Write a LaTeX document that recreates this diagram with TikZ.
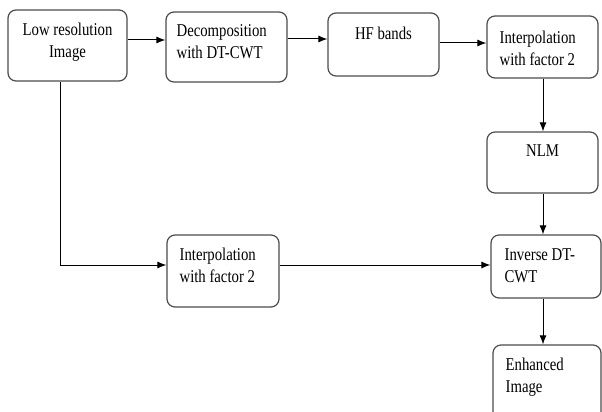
\documentclass[tikz,border=0pt]{standalone}
\usepackage{fontspec}
\setmainfont{Liberation Serif}[FakeStretch=0.82]
\usetikzlibrary{arrows.meta}
\usetikzlibrary{positioning}
\tikzset{
    stage/.style = {draw=black!70,line width=1.2pt,rounded corners=8pt,inner sep=0},
    txt/.style = {font=\fontsize{18}{22}\selectfont,inner sep=0},
    flow/.style = {line width=1pt,-{Latex[length=9pt,width=7pt]}},
    wire/.style = {line width=1pt}
}
\begin{document}
\begin{tikzpicture}[x=1pt,y=1pt]
        \clip (0,0) rectangle (602,-412);
        % Boxes
        \path node[stage,minimum width=119,minimum height=71] (lowres) at (67.5,-45.5) {}
            node[stage,minimum width=121,minimum height=70] (decomp) at (226.5,-47) {}
            node[stage,minimum width=111,minimum height=63] (hf) at (383.5,-44.5) {}
            node[stage,minimum width=111,minimum height=62] (interpA) at (542.5,-47) {}
            node[stage,minimum width=111,minimum height=61] (nlm) at (542.5,-162.5) {}
            node[stage,minimum width=110,minimum height=63] (inverse) at (546,-266.5) {}
            node[stage,minimum width=108,minimum height=80] (enhanced) at (547,-385) {}
            node[stage,minimum width=112,minimum height=72] (interpB) at (223,-271) {}
        ;
        % Texts
        \node[txt,align=center,below=13pt of lowres.north] (lowres-t) {Low resolution\\Image};
        \node[txt,align=left,below right=13pt and 11pt of decomp.north west] (decomp-t) {Decomposition\\with DT-CWT};
        \node[txt,below=14pt of hf.north] (hf-t) {HF bands};
        \node[txt,align=left,below right=15pt and 13pt of interpA.north west] (interpA-t) {Interpolation\\with factor 2};
        \node[txt,below=13pt of nlm.north] (nlm-t) {NLM};
        \node[txt,align=left,below right=14pt and 14pt of inverse.north west] (inverse-t) {Inverse DT-\\CWT};
        \node[txt,align=left,below right=13pt and 13pt of enhanced.north west] (enhanced-t) {Enhanced\\Image};
        \node[txt,align=left,below right=13pt and 13pt of interpB.north west] (interpB-t) {Interpolation\\with factor 2};
        % Connectors
        \draw[flow] ([yshift=5.5pt]lowres.east) -- ([yshift=5.5pt]lowres.east -| decomp.west);
        \draw[flow] ([yshift=8pt]decomp.east) -- ([yshift=8pt]decomp.east -| hf.west);
        \draw[flow] ([yshift=1.5pt]hf.east) -- ([yshift=1.5pt]hf.east -| interpA.west);
        \foreach \src/\dest in {interpA/nlm,nlm/inverse,inverse/enhanced}
            \draw[flow] ([xshift=0.5pt]interpA.south |- \src.south) -- ([xshift=0.5pt]interpA.south |- \dest.north);
        \draw[flow] ([xshift=-7.5pt]lowres.south) |- ([yshift=6pt]interpB.west);
        \draw[flow] ([yshift=6pt]interpB.east) -- ([yshift=6pt]interpB.east -| inverse.west);
    \end{tikzpicture}
\end{document}
